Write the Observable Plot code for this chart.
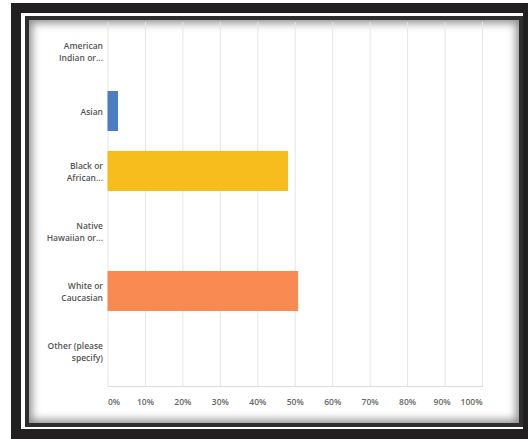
<!DOCTYPE html>
<html>
<head>
<meta charset="utf-8">
<script src="https://cdn.jsdelivr.net/npm/d3@7"></script>
<script src="https://cdn.jsdelivr.net/npm/@observablehq/plot@0.6"></script>
<style>
  html, body { margin: 0; padding: 0; background: #fff; width: 528px; height: 439px; overflow: hidden; }
  #outer { position: absolute; left: 11px; top: 3px; width: 522px; height: 436px; box-sizing: border-box; border: 10px solid #221f20; background: #fff; }
  #inner { position: absolute; left: 25px; top: 16px; width: 498px; height: 411px; box-sizing: border-box; border: 4px solid #2e2e2e; background: #fff; box-shadow: inset 0 0 9px 3px rgba(0,0,0,0.45); }
  #chart { position: absolute; left: 0; top: 0; }
</style>
</head>
<body>
<div id="outer"></div>
<div id="inner"></div>
<div id="chart"></div>
<script>
const categories = [
  "American\nIndian or...",
  "Asian",
  "Black or\nAfrican...",
  "Native\nHawaiian or...",
  "White or\nCaucasian",
  "Other (please\nspecify)"
];
const values = [0, 2.8, 48.2, 0, 50.9, 0];
const colors = ["#4a7dc2", "#4a7dc2", "#f7bd1c", "#f7bd1c", "#f98a52", "#f98a52"];
const xTicks = [0, 10, 20, 30, 40, 50, 60, 70, 80, 90, 100];

const data = categories.map((c, i) => ({category: c, value: values[i], color: colors[i]}));
const bars = data.filter(d => d.value > 0);

const font = "Open Sans, sans-serif";
const tickFmt = d => d + "%";

const chart = Plot.plot({
  width: 528,
  height: 439,
  marginLeft: 107.5,
  marginRight: 46,
  marginTop: 22,
  marginBottom: 53,
  style: {background: "transparent", fontFamily: font, fontSize: "8.5px", color: "#555"},
  x: {domain: [0, 100]},
  y: {domain: categories, paddingInner: 0.33, paddingOuter: 0.163, align: 0.39},
  marks: [
    Plot.ruleX(xTicks, {stroke: "#e6e6e6", strokeWidth: 1}),
    Plot.frame({anchor: "bottom", stroke: "#dcdcdc"}),
    Plot.barX(bars, {x: "value", y: "category", fill: "color"}),
    Plot.axisY({tickSize: 0, tickPadding: 5, label: null, fill: "#555", fontWeight: 600, lineHeight: 1.35}),
    Plot.axisX([0], {tickSize: 0, tickPadding: 12, label: null, tickFormat: tickFmt, textAnchor: "start", fill: "#666", fontWeight: 600}),
    Plot.axisX([10, 20, 30, 40, 50, 60, 70, 80], {tickSize: 0, tickPadding: 12, label: null, tickFormat: tickFmt, fill: "#666", fontWeight: 600}),
    Plot.axisX([90], {tickSize: 0, tickPadding: 12, label: null, tickFormat: tickFmt, fill: "#666", fontWeight: 600, dx: -3}),
    Plot.axisX([100], {tickSize: 0, tickPadding: 12, label: null, tickFormat: tickFmt, textAnchor: "end", fill: "#666", fontWeight: 600})
  ]
});
document.getElementById("chart").appendChild(chart);
</script>
</body>
</html>
